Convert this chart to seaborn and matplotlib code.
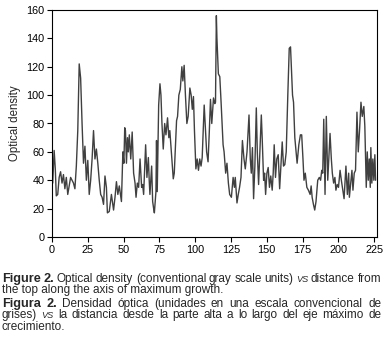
import matplotlib
matplotlib.use('Agg')
import matplotlib.pyplot as plt
import seaborn as sns
from matplotlib import font_manager

# distance along the axis and optical density
dist = [0, 0.5, 1.5, 2.3, 3, 4, 5, 6, 7, 8, 9, 10, 11, 12, 13, 14, 15, 16, 17, 18,
        19, 20, 21, 22, 23, 24, 25, 26, 27, 28, 29, 30, 31, 32, 33, 34, 35, 36, 37, 38,
        38.7, 40, 41.5, 43, 44, 45, 46, 47, 48.5, 49.5, 50.2, 50.8, 51.3, 52, 52.7, 53.3, 54, 55, 56, 57,
        58, 58.7, 59.6, 60.5, 61.5, 62.6, 63.3, 64, 65.4, 66.3, 67.3, 67.9, 68.4, 69.6, 70.3, 71, 71.5, 72.6, 73, 73.5,
        74.5, 75.4, 76.1, 76.8, 77.7, 78.7, 79.6, 80.7, 81.6, 82.3, 83, 84.7, 85.4, 86.3, 87, 87.7, 88.6, 89.6, 90.7, 91.4,
        92.3, 93.2, 94.2, 95.1, 96.3, 97.2, 98, 98.8, 99.5, 100.5, 101.4, 102.3, 103.2, 104.1, 104.9, 105.6, 106.3, 107.2, 108, 109,
        109.9, 110.7, 111.6, 112.8, 113.7, 114.2, 114.8, 115.2, 116.2, 117.2, 118.1, 119.5, 120.2, 121.3, 122.2, 123.2, 124.1, 125.3, 126.5, 127.4,
        128, 129.2, 130.1, 131, 132, 133, 134.1, 135, 136.2, 137.6, 138.5, 139.2, 140, 140.8, 141.7, 142.7, 143.4, 144.3, 145.2, 146.2,
        146.8, 147.8, 148.5, 149.2, 150.1, 151, 151.9, 152.8, 153.8, 154.5, 155.2, 156.1, 157, 158, 159, 159.9, 160.8, 161.7, 162.6, 163.6,
        164.7, 165.7, 166.6, 168, 168.7, 169.6, 170.5, 171.2, 172.4, 173.5, 174.4, 175.3, 176, 176.9, 178, 179.1, 180.3, 181, 181.7, 182.6,
        183.5, 184.4, 185.6, 186.7, 187.6, 188.4, 189.1, 189.8, 190.7, 191.6, 192.6, 193.3, 194.2, 195.1, 195.8, 196.7, 197.6, 198.3, 199.2, 200.1,
        201.2, 202.1, 204, 205.3, 206.3, 207.2, 207.7, 208.8, 209.5, 210.2, 211.1, 212, 213, 213.9, 214.8, 215.8, 216.7, 217.8, 218.5, 219.5,
        220.2, 220.9, 221.6, 222.3, 222.7, 223.4, 224.1, 224.8, 225.5, 226]
dens = [58, 38, 61, 48, 29, 30, 42, 46, 38, 44, 34, 42, 30, 36, 42, 40, 38, 34, 50, 75,
        122, 112, 80, 52, 64, 40, 54, 30, 40, 55, 75, 55, 62, 52, 40, 30, 28, 23, 43, 35,
        17, 18, 30, 19, 28, 39, 30, 36, 25, 60, 52, 77, 75, 52, 70, 60, 72, 55, 74, 45,
        38, 28, 38, 35, 55, 35, 37, 30, 65, 42, 56, 40, 30, 50, 25, 20, 17, 32, 68, 32,
        93, 108, 100, 80, 62, 80, 72, 84, 70, 75, 65, 41, 45, 65, 82, 85, 100, 104, 120, 110,
        121, 100, 80, 85, 105, 100, 90, 99, 75, 48, 55, 47, 55, 50, 56, 75, 93, 75, 60, 53,
        75, 97, 80, 98, 94, 95, 156, 140, 115, 113, 95, 65, 60, 45, 52, 38, 30, 28, 42, 35,
        42, 24, 30, 35, 42, 68, 55, 48, 60, 86, 55, 45, 63, 27, 50, 91, 60, 37, 60, 86,
        70, 40, 45, 30, 45, 49, 35, 43, 33, 45, 65, 42, 55, 58, 34, 50, 67, 50, 51, 60,
        100, 133, 134, 100, 95, 70, 60, 52, 65, 72, 72, 55, 40, 45, 35, 33, 30, 36, 28, 23,
        19, 25, 40, 42, 40, 47, 45, 83, 30, 85, 40, 55, 73, 55, 45, 38, 42, 33, 37, 35,
        47, 40, 27, 50, 30, 45, 28, 40, 47, 33, 45, 47, 88, 60, 75, 95, 85, 92, 78, 35,
        60, 40, 55, 35, 63, 38, 55, 40, 58, 40]
xticks = [0, 25, 50, 75, 100, 125, 150, 175, 200, 225]
yticks = [0, 20, 40, 60, 80, 100, 120, 140, 160]

sns.set_style('ticks')
names = {f.name for f in font_manager.fontManager.ttflist}
narrow = 'Liberation Sans Narrow' if 'Liberation Sans Narrow' in names else 'Liberation Sans'
plt.rcParams['font.family'] = [narrow, 'DejaVu Sans']

W, H = 386, 347
fig = plt.figure(figsize=(W / 100, H / 100), dpi=100)
ax = fig.add_axes([52 / W, 1 - 237 / H, 325 / W, 227 / H])

sns.lineplot(x=dist, y=dens, ax=ax, color='#404040', linewidth=1.0)
ax.set_xlim(0, 227)
ax.set_ylim(0, 160)
ax.set_xticks(xticks)
ax.set_yticks(yticks)
ax.tick_params(direction='out', length=3.5, width=0.8, labelsize=7.8, pad=2, colors='black')
for s in ax.spines.values():
    s.set_linewidth(0.8)
    s.set_color('black')
ax.set_xlabel('')
ax.set_ylabel('Optical density', fontsize=8.3, family='Liberation Sans', labelpad=4)

# caption, set word by word so the lines come out justified
r = fig.canvas.get_renderer()


def caption_line(y_px, parts, left=2, right=381):
    words = []
    for txt, wt, st, sz in parts:
        for wd in txt.split(' '):
            if wd:
                words.append((wd, wt, st, sz))
    objs = [fig.text(0, 0, wd, fontsize=sz, fontweight=wt, fontstyle=st, va='baseline')
            for wd, wt, st, sz in words]
    widths = [o.get_window_extent(r).width for o in objs]
    gap = (right - left - sum(widths)) / (len(objs) - 1)
    x = left
    for o, w in zip(objs, widths):
        o.set_position((x / W, 1 - y_px / H))
        x += w + gap


cs = 8.45
bs = 9.2
caption_line(282, [('Figure 2.', 'bold', 'normal', bs),
                   ('Optical density (conventional gray scale units)', 'normal', 'normal', cs),
                   ('VS', 'normal', 'italic', 6.6),
                   ('distance from', 'normal', 'normal', cs)])
fig.text(2 / W, 1 - 293.5 / H, 'the top along the axis of maximum growth.', fontsize=cs, va='baseline')
caption_line(307, [('Figura 2.', 'bold', 'normal', bs),
                   ('Densidad óptica (unidades en una escala convencional de', 'normal', 'normal', cs)])
caption_line(318, [('grises)', 'normal', 'normal', cs),
                   ('VS', 'normal', 'italic', 6.6),
                   ('la distancia desde la parte alta a lo largo del eje máximo de', 'normal', 'normal', cs)])
fig.text(2 / W, 1 - 329.5 / H, 'crecimiento.', fontsize=cs, va='baseline')

fig.savefig('out.png', dpi=100)
